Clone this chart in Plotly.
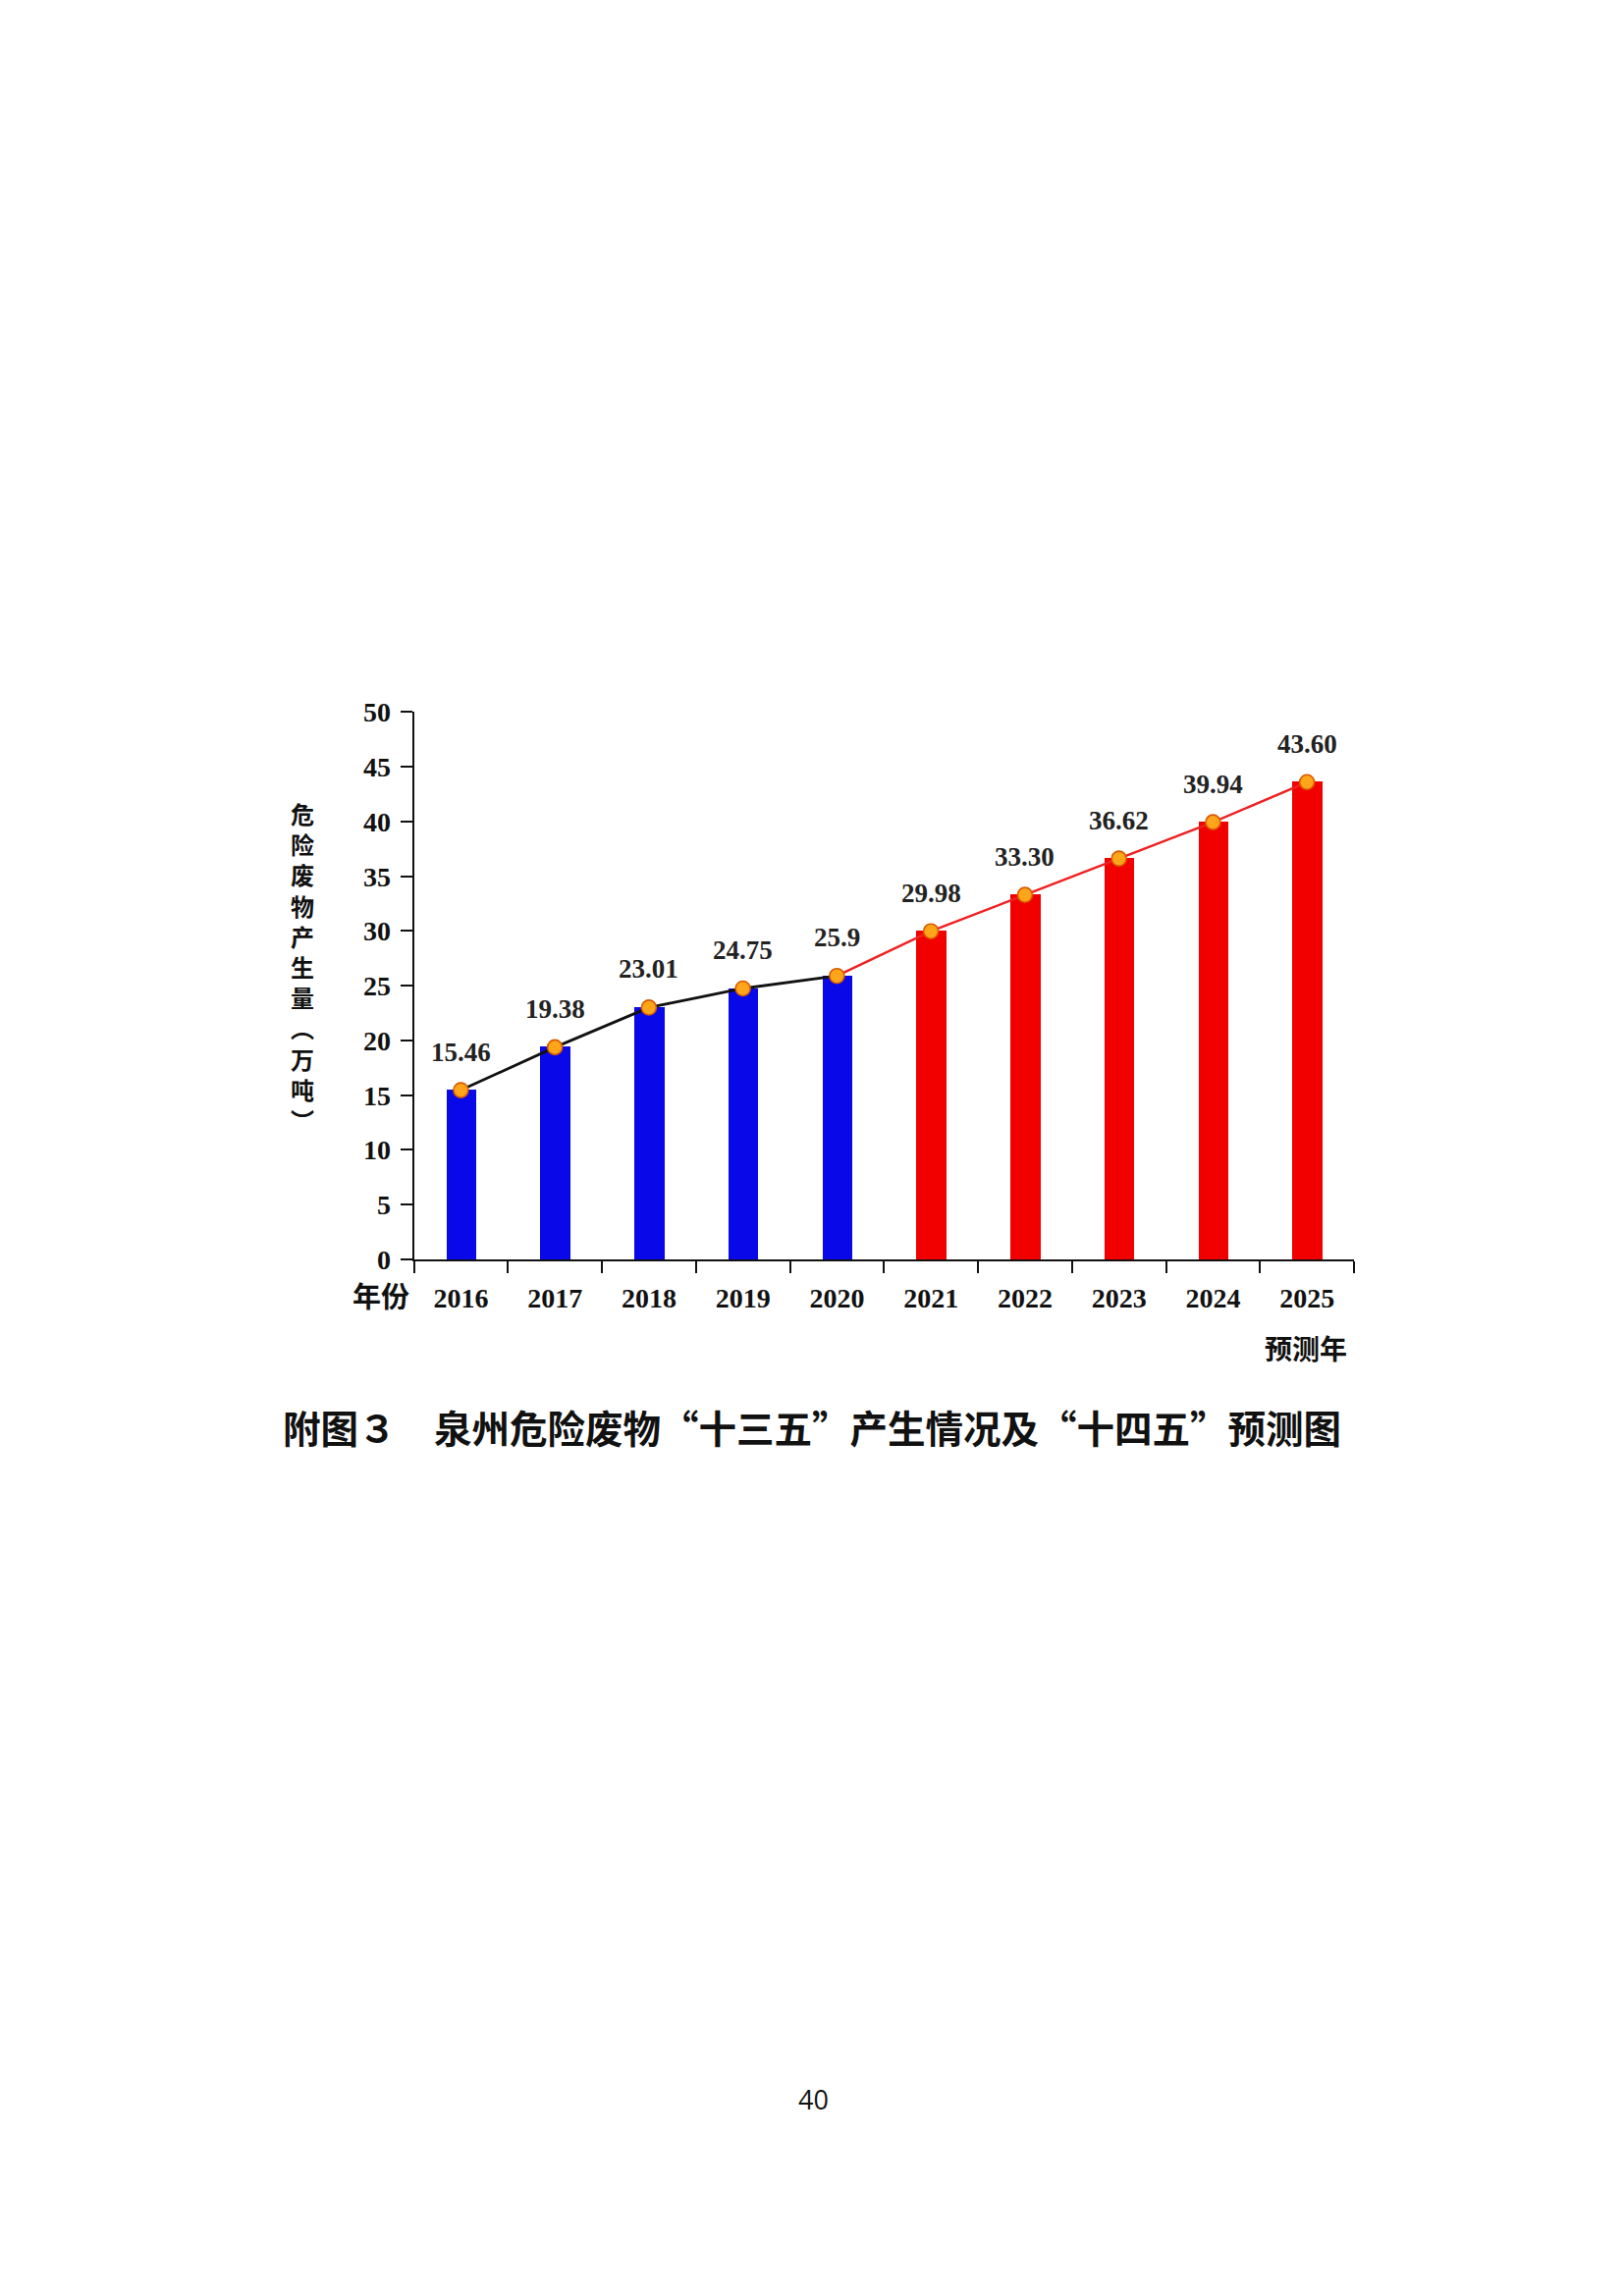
import plotly.graph_objects as go

# ---------------- data ----------------
years = ["2016", "2017", "2018", "2019", "2020", "2021", "2022", "2023", "2024", "2025"]
values = [15.46, 19.38, 23.01, 24.75, 25.9, 29.98, 33.30, 36.62, 39.94, 43.60]
value_labels = ["15.46", "19.38", "23.01", "24.75", "25.9", "29.98", "33.30", "36.62", "39.94", "43.60"]
periods = ["十三五", "十三五", "十三五", "十三五", "十三五", "十四五", "十四五", "十四五", "十四五", "十四五"]
y_ticks = [0, 5, 10, 15, 20, 25, 30, 35, 40, 45, 50]

y_title_chars = ["危", "险", "废", "物", "产", "生", "量", "︵", "万", "吨", "︶"]
x_title = "年份"
forecast_note = "预测年"
caption = "附图３　泉州危险废物“十三五”产生情况及“十四五”预测图"
page_number = "40"

# ---------------- styles ----------------
W, H = 1654, 2339
SERIF = "Liberation Serif, Times New Roman, serif"
CJK = "Noto Sans CJK SC, sans-serif"
period_color = {"十三五": "#0808E8", "十四五": "#F20000"}
bar_colors = [period_color[p] for p in periods]


def px(x):
    return x / W


def py(y):
    return 1 - y / H


x0_px, x1_px = 421.5, 1379
y0_px, y1_px = 1285, 720

fig = go.Figure()

fig.add_trace(go.Bar(
    x=years, y=values, width=0.32,
    marker=dict(color=bar_colors, line=dict(width=0)),
    showlegend=False, hoverinfo="skip",
))

split = periods.index("十四五") - 1  # 2020 connects both segments
fig.add_trace(go.Scatter(
    x=years[:split + 1], y=values[:split + 1], mode="lines",
    line=dict(color="#111111", width=2.8), showlegend=False, hoverinfo="skip",
))
fig.add_trace(go.Scatter(
    x=years[split:], y=values[split:], mode="lines",
    line=dict(color="#F02020", width=2.4), showlegend=False, hoverinfo="skip",
))
fig.add_trace(go.Scatter(
    x=years, y=values, mode="markers",
    marker=dict(size=15, color="#FFA51A", line=dict(color="#D85A00", width=1.6)),
    showlegend=False, hoverinfo="skip",
))

annotations = []
for i, (v, t) in enumerate(zip(values, value_labels)):
    annotations.append(dict(
        x=i, y=v, xref="x", yref="y", text=t, showarrow=False,
        yshift=39, yanchor="middle",
        font=dict(family=SERIF, size=27, color="#222222", weight="bold"),
    ))

annotations += [
    dict(x=px(308), y=py(983), xref="paper", yref="paper",
         text="<br>".join(y_title_chars), showarrow=False,
         xanchor="center", yanchor="middle",
         font=dict(family=CJK, size=24, color="#111111", weight="bold")),
    dict(x=px(388), y=py(1322), xref="paper", yref="paper", text=x_title,
         showarrow=False, xanchor="center", yanchor="middle",
         font=dict(family=CJK, size=29, color="#111111", weight="bold")),
    dict(x=px(1330), y=py(1376), xref="paper", yref="paper", text=forecast_note,
         showarrow=False, xanchor="center", yanchor="middle",
         font=dict(family=CJK, size=28, color="#111111", weight="bold")),
    dict(x=px(827), y=py(1457), xref="paper", yref="paper", text=caption,
         showarrow=False, xanchor="center", yanchor="middle",
         font=dict(family=CJK, size=38.5, color="#111111", weight="bold")),
    dict(x=px(828), y=py(2152), xref="paper", yref="paper", text=page_number,
         showarrow=False, xanchor="center", yanchor="middle",
         font=dict(family="Open Sans, sans-serif", size=27, color="#111111")),
]

fig.update_layout(
    width=W, height=H,
    margin=dict(l=0, r=0, t=0, b=0),
    paper_bgcolor="white", plot_bgcolor="white",
    bargap=0, showlegend=False,
    annotations=annotations,
    xaxis=dict(
        domain=[px(x0_px), px(x1_px)], type="category",
        range=[-0.5, len(years) - 0.5], autorange=False,
        showline=True, linecolor="#111111", linewidth=2,
        ticks="outside", ticklen=12, tickwidth=2, tickcolor="#111111",
        tickson="boundaries", showgrid=False, zeroline=False,
        tickfont=dict(family=SERIF, size=28, color="#111111", weight="bold"),
        tickangle=0, ticklabelstandoff=13,
    ),
    yaxis=dict(
        domain=[py(y0_px), py(y1_px)], range=[0, 50], autorange=False,
        tickvals=y_ticks, ticktext=[str(t) for t in y_ticks],
        showline=True, linecolor="#111111", linewidth=2,
        ticks="outside", ticklen=12, tickwidth=2, tickcolor="#111111",
        showgrid=False, zeroline=False,
        tickfont=dict(family=SERIF, size=28, color="#111111", weight="bold"),
        ticklabelstandoff=4,
    ),
)

fig.write_html(
    "out.html",
    config={"displayModeBar": False},
    post_script="document.body.style.margin='0px';document.body.style.overflow='hidden';",
)
